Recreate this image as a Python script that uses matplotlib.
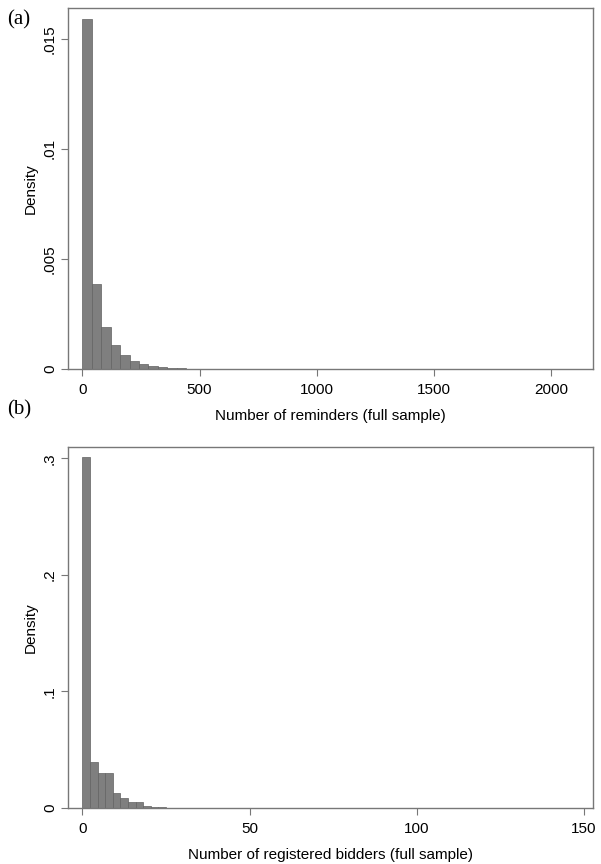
import matplotlib.pyplot as plt
import numpy as np

# panel (a): number of reminders, histogram densities (bin width ~40.3)
rem_bin_width = 40.3
rem_density = [0.0159, 0.00385, 0.00193, 0.00109, 0.00063, 0.00036, 0.00024,
               0.00015, 0.00009, 0.00005, 0.00003, 0.00002, 0.00002, 0.00001,
               0.00001, 0.00001, 0.000008, 0.000006, 0.000005, 0.000004,
               0.000003, 0.000003, 0.000002, 0.000002, 0.000002, 0.000001,
               0.000001, 0.000001, 0.000001, 0.000001, 0.000001, 0.0,
               0.000001, 0.0, 0.0, 0.000001, 0.0, 0.0, 0.0, 0.000001,
               0.0, 0.0, 0.0, 0.0, 0.0, 0.000001, 0.0, 0.0, 0.0, 0.0,
               0.0, 0.000001]
rem_ticks = [0, 500, 1000, 1500, 2000]
rem_yticks = [0, 0.005, 0.01, 0.015]
rem_ylabels = ['0', '.005', '.01', '.015']

# panel (b): number of registered bidders (bin width ~2.27)
bid_bin_width = 2.27
bid_density = [0.301, 0.0394, 0.0303, 0.0303, 0.0126, 0.0083, 0.0054, 0.0049,
               0.0020, 0.0009, 0.0005, 0.0003, 0.0002, 0.0001, 0.0001,
               0.00005, 0.00005, 0.00003, 0.00002, 0.00002, 0.00001,
               0.00001, 0.00001, 0.0, 0.00001, 0.0, 0.0, 0.00001, 0.0,
               0.0, 0.0, 0.0, 0.00001, 0.0, 0.0, 0.0, 0.0, 0.0, 0.0,
               0.0, 0.0, 0.0, 0.00001, 0.0, 0.0, 0.0, 0.0, 0.0, 0.0, 0.0,
               0.0, 0.0, 0.0, 0.0, 0.0, 0.0, 0.0, 0.0, 0.0, 0.0, 0.0,
               0.0, 0.0, 0.0, 0.0, 0.00001]
bid_ticks = [0, 50, 100, 150]
bid_yticks = [0, 0.1, 0.2, 0.3]
bid_ylabels = ['0', '.1', '.2', '.3']

plt.rcParams['font.family'] = ['Liberation Sans', 'DejaVu Sans']

fig = plt.figure(figsize=(6.01, 8.64), dpi=100)
ax1 = fig.add_axes([68 / 601, 1 - 369 / 864, 525 / 601, 361 / 864])
ax2 = fig.add_axes([68 / 601, 1 - 808 / 864, 525 / 601, 361 / 864])

bar_col = '#7f7f7f'
edge_col = '#626262'
frame_col = '#777777'


def style(ax, xt, yt, ylab, xlabel):
    for s in ax.spines.values():
        s.set_color(frame_col)
        s.set_linewidth(1.0)
    ax.set_xticks(xt)
    ax.set_xticklabels([str(t) for t in xt])
    ax.set_yticks(yt)
    ax.set_yticklabels(ylab, rotation=90, va='center')
    ax.tick_params(axis='both', direction='out', length=5, width=0.8,
                   color=frame_col, labelsize=11)
    ax.tick_params(axis='x', pad=5)
    ax.tick_params(axis='y', pad=3)
    ax.set_xlabel(xlabel, fontsize=11, labelpad=9)
    ax.set_ylabel('Density', fontsize=11, labelpad=4)


edges = np.arange(len(rem_density)) * rem_bin_width
ax1.bar(edges, rem_density, width=rem_bin_width, align='edge',
        color=bar_col, edgecolor=edge_col, linewidth=0.5)
ax1.set_xlim(-61, 2178)
ax1.set_ylim(0, 0.0164)
style(ax1, rem_ticks, rem_yticks, rem_ylabels, 'Number of reminders (full sample)')

edges = np.arange(len(bid_density)) * bid_bin_width
ax2.bar(edges, bid_density, width=bid_bin_width, align='edge',
        color=bar_col, edgecolor=edge_col, linewidth=0.5)
ax2.set_xlim(-4.3, 152.7)
ax2.set_ylim(0, 0.3096)
style(ax2, bid_ticks, bid_yticks, bid_ylabels, 'Number of registered bidders (full sample)')

fig.text(7 / 601, 1 - 20 / 864, '(a)', family=['Liberation Serif', 'DejaVu Serif'],
         fontsize=15, va='center', ha='left')
fig.text(7 / 601, 1 - 410 / 864, '(b)', family=['Liberation Serif', 'DejaVu Serif'],
         fontsize=15, va='center', ha='left')

fig.savefig('out.png', dpi=100)
